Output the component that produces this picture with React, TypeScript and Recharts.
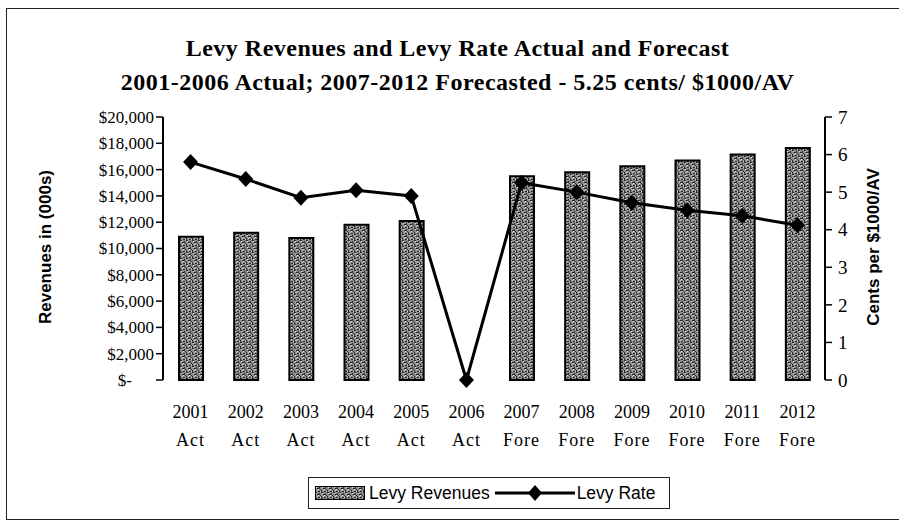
import React from 'react';
import { ComposedChart, Bar, Line, XAxis, YAxis } from 'recharts';

const years = ['2001', '2002', '2003', '2004', '2005', '2006', '2007', '2008', '2009', '2010', '2011', '2012'];
const phases = ['Act', 'Act', 'Act', 'Act', 'Act', 'Act', 'Fore', 'Fore', 'Fore', 'Fore', 'Fore', 'Fore'];
// revenues in $000s
const levyRevenues = [10900, 11200, 10800, 11800, 12100, 0, 15500, 15800, 16250, 16700, 17150, 17650];
// cents per $1000 AV
const levyRate = [5.8, 5.35, 4.85, 5.05, 4.9, 0, 5.25, 5.0, 4.72, 4.52, 4.37, 4.12];

const revenueTicks = [0, 2000, 4000, 6000, 8000, 10000, 12000, 14000, 16000, 18000, 20000];
const rateTicks = [0, 1, 2, 3, 4, 5, 6, 7];
const boundaryTicks = [0, 1, 2, 3, 4, 5, 6, 7, 8, 9, 10, 11, 12];

const data = years.map((year, i) => ({
  year,
  phase: phases[i],
  revenue: levyRevenues[i],
  rate: levyRate[i],
}));

const SERIF = '"Liberation Serif", "Times New Roman", serif';
const SANS = '"Liberation Sans", Arial, sans-serif';

const noTick = () => <g />;

const RevenueTick = (props: any) => {
  const { x, y, payload } = props;
  const v = payload.value;
  const label = v === 0 ? '$-' : '$' + v.toLocaleString('en-US');
  return (
    <text x={v === 0 ? x - 22 : x} y={y} dy="0.35em" textAnchor="end" fontFamily={SERIF} fontSize={17} fill="#000">
      {label}
    </text>
  );
};

const RateTick = (props: any) => {
  const { x, y, payload } = props;
  return (
    <text x={x} y={y} dy="0.35em" textAnchor="start" fontFamily={SERIF} fontSize={19} fill="#000">
      {payload.value}
    </text>
  );
};

const YearTick = (props: any) => {
  const { x, y, index } = props;
  return (
    <text x={x} y={y} textAnchor="middle" fontFamily={SERIF} fontSize={18} fill="#000">
      <tspan x={x} dy={38}>{years[index]}</tspan>
      <tspan x={x} dy={28} letterSpacing={1}>{phases[index]}</tspan>
    </text>
  );
};

const Diamond = (props: any) => {
  const { cx, cy, index } = props;
  if (cx == null || cy == null) return <g key={`d-${index}`} />;
  return (
    <polygon
      key={`d-${index}`}
      points={`${cx},${cy - 8} ${cx + 7.5},${cy} ${cx},${cy + 8} ${cx - 7.5},${cy}`}
      fill="#000"
    />
  );
};

const Texture = ({ id }: { id: string }) => (
  <pattern id={id} width="6" height="6" patternUnits="userSpaceOnUse">
    <rect width="6" height="6" fill="#8c8c8c" />
    <rect x="0" y="0" width="2" height="1" fill="#2a2a2a" />
    <rect x="4" y="1" width="1" height="2" fill="#333" />
    <rect x="2" y="2" width="2" height="1" fill="#222" />
    <rect x="5" y="3" width="1" height="1" fill="#3a3a3a" />
    <rect x="0" y="4" width="1" height="2" fill="#2e2e2e" />
    <rect x="3" y="5" width="2" height="1" fill="#262626" />
    <rect x="1" y="1" width="1" height="1" fill="#dcdcdc" />
    <rect x="3" y="3" width="1" height="1" fill="#e2e2e2" />
    <rect x="5" y="5" width="1" height="1" fill="#d6d6d6" />
    <rect x="2" y="4" width="1" height="1" fill="#c8c8c8" />
  </pattern>
);

export default function App() {
  return (
    <div style={{ position: 'absolute', left: 0, top: 0, width: 899, height: 524, background: '#fff', overflow: 'hidden' }}>
      <div
        style={{
          position: 'absolute',
          left: 6,
          top: 8,
          width: 1000,
          height: 510,
          borderLeft: '1.5px solid #222',
          borderTop: '1.5px solid #222',
          borderBottom: '1.5px solid #222',
        }}
      />
      <div
        style={{
          position: 'absolute',
          left: 0,
          top: 31,
          width: 915,
          textAlign: 'center',
          fontFamily: SERIF,
          fontWeight: 'bold',
          fontSize: 24,
          letterSpacing: 0.5,
          lineHeight: '34px',
          color: '#000',
        }}
      >
        <div>Levy Revenues and Levy Rate Actual and Forecast</div>
        <div>2001-2006 Actual; 2007-2012 Forecasted - 5.25 cents/ $1000/AV</div>
      </div>
      <div
        style={{
          position: 'absolute',
          left: 46 - 120,
          top: 247 - 11,
          width: 240,
          textAlign: 'center',
          transform: 'rotate(-90deg)',
          fontFamily: SANS,
          fontWeight: 'bold',
          fontSize: 17,
          lineHeight: '22px',
        }}
      >
        Revenues in (000s)
      </div>
      <div
        style={{
          position: 'absolute',
          left: 874 - 120,
          top: 247 - 11,
          width: 240,
          textAlign: 'center',
          transform: 'rotate(-90deg)',
          fontFamily: SANS,
          fontWeight: 'bold',
          fontSize: 17,
          lineHeight: '22px',
        }}
      >
        Cents per $1000/AV
      </div>

      <div style={{ position: 'absolute', left: 0, top: 0 }}>
        <ComposedChart width={899} height={524} data={data} margin={{ top: 117, right: 14, bottom: 74, left: 70 }}>
          <defs>
            <Texture id="levyTexture" />
          </defs>
          <XAxis
            xAxisId="bounds"
            type="number"
            domain={[0, 12]}
            ticks={boundaryTicks}
            allowDataOverflow
            height={0}
            tick={noTick}
            tickSize={9}
            tickLine={{ stroke: '#000', strokeWidth: 1.5 }}
            axisLine={{ stroke: '#000', strokeWidth: 2 }}
          />
          <XAxis
            xAxisId="cat"
            dataKey="year"
            height={70}
            tickLine={false}
            axisLine={false}
            tickSize={0}
            tickMargin={0}
            interval={0}
            tick={YearTick}
          />
          <XAxis xAxisId="top" orientation="top" dataKey="year" height={0} tick={false} tickLine={false} axisLine={{ stroke: '#000', strokeWidth: 1.5 }} />
          <YAxis
            yAxisId="rev"
            width={93}
            domain={[0, 20000]}
            ticks={revenueTicks}
            interval={0}
            tick={RevenueTick}
            tickSize={7}
            tickMargin={2}
            tickLine={{ stroke: '#000', strokeWidth: 1.5 }}
            axisLine={{ stroke: '#000', strokeWidth: 2 }}
          />
          <YAxis
            yAxisId="rate"
            orientation="right"
            width={60}
            domain={[0, 7]}
            ticks={rateTicks}
            interval={0}
            tick={RateTick}
            tickSize={7}
            tickMargin={6}
            tickLine={{ stroke: '#000', strokeWidth: 1.5 }}
            axisLine={{ stroke: '#000', strokeWidth: 2 }}
          />
          <Bar
            xAxisId="cat"
            yAxisId="rev"
            dataKey="revenue"
            name="Levy Revenues"
            barSize={24}
            fill="url(#levyTexture)"
            stroke="#000"
            strokeWidth={2}
            isAnimationActive={false}
          />
          <Line
            xAxisId="cat"
            yAxisId="rate"
            dataKey="rate"
            name="Levy Rate"
            stroke="#000"
            strokeWidth={3}
            dot={Diamond}
            activeDot={false}
            isAnimationActive={false}
          />
        </ComposedChart>
      </div>

      <div
        style={{
          position: 'absolute',
          left: 308,
          top: 477,
          width: 362,
          height: 32,
          border: '1.5px solid #222',
          boxSizing: 'border-box',
          display: 'flex',
          alignItems: 'center',
          fontFamily: SANS,
          fontSize: 17.5,
          color: '#000',
        }}
      >
        <svg width={50} height={14} style={{ marginLeft: 6, marginRight: 4 }}>
          <defs>
            <Texture id="legendTexture" />
          </defs>
          <rect x={0.5} y={0.5} width={49} height={13} fill="url(#legendTexture)" stroke="#000" strokeWidth={1} />
        </svg>
        <span>Levy Revenues</span>
        <svg width={84} height={18} style={{ marginLeft: 3 }}>
          <line x1={2} y1={9} x2={82} y2={9} stroke="#000" strokeWidth={3} />
          <polygon points="42,1 49,9 42,17 35,9" fill="#000" />
        </svg>
        <span>Levy Rate</span>
      </div>
    </div>
  );
}
